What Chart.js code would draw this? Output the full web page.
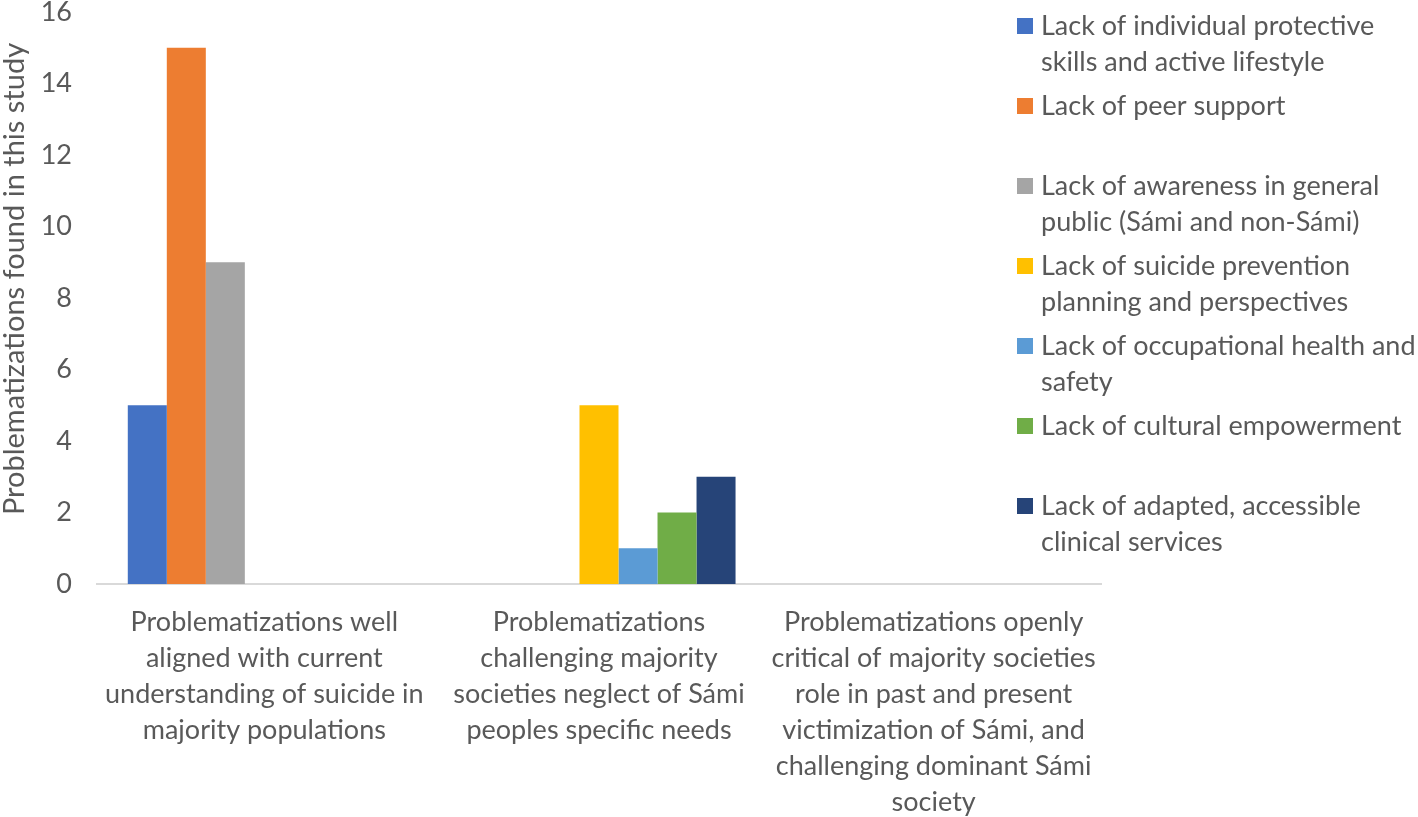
<!DOCTYPE html>
<html>
<head>
<meta charset="utf-8">
<script src="https://cdn.jsdelivr.net/npm/chart.js@4"></script>
<style>
  html, body { margin: 0; padding: 0; background: #fff; }
  #wrap { width: 1418px; height: 817px; }
</style>
</head>
<body>
<div id="wrap"><canvas id="chart" width="1418" height="817"></canvas></div>
<script>
const categories = [
  ['Problematizations well', 'aligned with current', 'understanding of suicide in', 'majority populations'],
  ['Problematizations', 'challenging majority', 'societies neglect of Sámi', 'peoples specific needs'],
  ['Problematizations openly', 'critical of majority societies', 'role in past and present', 'victimization of Sámi, and', 'challenging dominant Sámi', 'society']
];
const seriesNames = [
  ['Lack of individual protective', 'skills and active lifestyle'],
  ['Lack of peer support'],
  ['Lack of awareness in general', 'public (Sámi and non-Sámi)'],
  ['Lack of suicide prevention', 'planning and perspectives'],
  ['Lack of occupational health and', 'safety'],
  ['Lack of cultural empowerment'],
  ['Lack of adapted, accessible', 'clinical services']
];
const seriesColors = ['#4472C4', '#ED7D31', '#A5A5A5', '#FFC000', '#5B9BD5', '#70AD47', '#264478'];
const individualSkills = [5, 0, 0];
const peerSupport = [15, 0, 0];
const publicAwareness = [9, 0, 0];
const preventionPlanning = [0, 5, 0];
const occupationalHealth = [0, 1, 0];
const culturalEmpowerment = [0, 2, 0];
const clinicalServices = [0, 3, 0];
const seriesValues = [individualSkills, peerSupport, publicAwareness, preventionPlanning,
  occupationalHealth, culturalEmpowerment, clinicalServices];
const yTicks = [0, 2, 4, 6, 8, 10, 12, 14, 16];
const yTitle = 'Problematizations found in this study';

const textColor = '#595959';
const fontFamily = 'Lato, "Open Sans", sans-serif';

// legend on the right (one 80px slot per series) and the y title, drawn by hand
const sideLegend = {
  id: 'sideLegend',
  afterDraw(chart) {
    const ctx = chart.ctx;
    ctx.save();
    ctx.font = '27px ' + fontFamily;
    ctx.textBaseline = 'middle';
    seriesNames.forEach((lines, i) => {
      const y = 26 + i * 80;
      ctx.fillStyle = seriesColors[i];
      ctx.fillRect(1017, y - 8, 16, 16);
      ctx.fillStyle = textColor;
      lines.forEach((line, j) => ctx.fillText(line, 1041, y + j * 36));
    });
    ctx.translate(15, 279);
    ctx.rotate(-Math.PI / 2);
    ctx.textAlign = 'center';
    ctx.font = '29px ' + fontFamily;
    ctx.fillText(yTitle, 0, 0);
    ctx.restore();
  }
};

new Chart(document.getElementById('chart'), {
  type: 'bar',
  data: {
    labels: categories,
    datasets: seriesValues.map((vals, i) => ({
      label: seriesNames[i].join(' '),
      data: vals,
      backgroundColor: seriesColors[i],
      borderWidth: 0,
      barPercentage: 1,
      categoryPercentage: 0.816
    }))
  },
  options: {
    responsive: false,
    animation: false,
    layout: { padding: { top: 12, right: 317, left: 0, bottom: 0 } },
    plugins: {
      legend: { display: false },
      tooltip: { enabled: false }
    },
    scales: {
      x: {
        grid: { display: false, drawTicks: false },
        border: { display: true, color: '#D9D9D9', width: 2 },
        ticks: {
          color: textColor,
          padding: 20,
          maxRotation: 0,
          autoSkip: false,
          font: { family: fontFamily, size: 27, lineHeight: 1.333 }
        },
        afterFit(scale) { scale.height = 233; }
      },
      y: {
        min: 0,
        max: 16,
        afterBuildTicks(scale) { scale.ticks = yTicks.map(v => ({ value: v })); },
        grid: { display: false, drawTicks: false },
        border: { display: false },
        ticks: {
          color: textColor,
          padding: 25,
          font: { family: fontFamily, size: 27 }
        },
        afterFit(scale) {
          scale.width = 97;
          scale.paddingTop = 0;
          scale.paddingBottom = 0;
        }
      }
    }
  },
  plugins: [sideLegend]
});
</script>
</body>
</html>
